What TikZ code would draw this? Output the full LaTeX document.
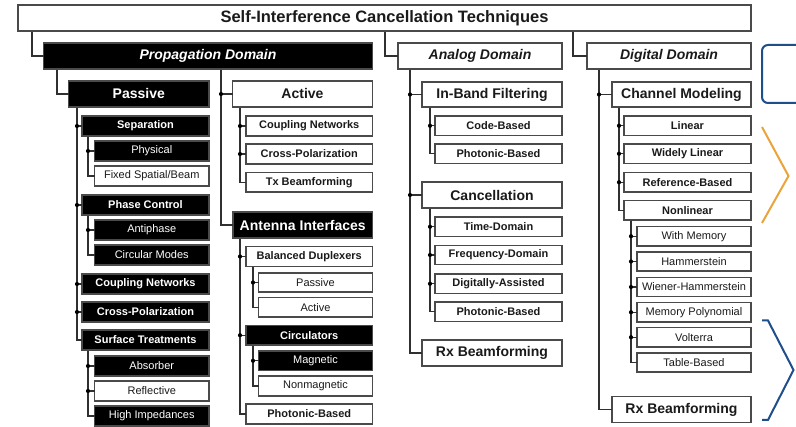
\documentclass[tikz,border=0pt]{standalone}
\usepackage{fontspec}
\setmainfont{Liberation Sans}
\definecolor{bordc}{HTML}{4A4A4A}
\definecolor{linec}{HTML}{303030}
\definecolor{navyc}{HTML}{1F4E8C}
\definecolor{goldc}{HTML}{E9A53A}
\definecolor{txtc}{HTML}{1A1A1A}
\newcommand\fTitle{\fontsize{16.5}{18}\selectfont\bfseries}
\newcommand\fDom{\fontsize{14}{16}\selectfont\bfseries\itshape}
\newcommand\fTwo{\fontsize{14}{16}\selectfont\bfseries}
\newcommand\fThree{\fontsize{11}{13}\selectfont\bfseries}
\newcommand\fFour{\fontsize{11}{13}\selectfont}
\tikzset{
  wbox/.style={draw=bordc, line width=1.2pt, fill=white, text=txtc, inner sep=0pt, outer sep=0pt, anchor=north west},
  bbox/.style={wbox, fill=black, text=white},
  conn/.style={draw=linec, line width=1.3pt},
  jdot/.style={fill=black},
}
\newcommand\bx[7]{\node[#6, minimum width={#4pt-#2pt}, minimum height={#5pt-#3pt}] (#1) at (#2,#3) {#7};}
\newcommand\br[2]{\draw[conn] (#1) |- (#2.west);}
\newcommand\jd[2]{\fill[jdot] (#1 |- #2.west) circle (2.1pt);}
\begin{document}
\begin{tikzpicture}[x=1pt,y=-1pt]
\fill[white] (0,0) rectangle (796,427);
\useasboundingbox (0,0) rectangle (796,427);
% top level
\bx{title}{18}{5}{751}{31}{wbox}{\fTitle Self-Interference Cancellation Techniques}
\bx{prop}{43.5}{43}{372.5}{69}{bbox}{\fDom Propagation Domain}
\bx{analog}{398}{43}{562}{69}{wbox}{\fDom Analog Domain}
\bx{digital}{587}{43}{751}{69}{wbox}{\fDom Digital Domain}
% propagation: passive
\bx{passive}{68.5}{81}{209}{107}{bbox}{\fTwo Passive}
\bx{sep}{82}{116}{209}{136}{bbox}{\fThree Separation}
\bx{phys}{94.5}{141}{209}{161}{bbox}{\fFour Physical}
\bx{fixed}{94.5}{166}{209}{186}{wbox}{\fFour Fixed Spatial/Beam}
\bx{phase}{82}{195}{209}{215}{bbox}{\fThree Phase Control}
\bx{anti}{94.5}{220}{209}{240}{bbox}{\fFour Antiphase}
\bx{circ}{94.5}{245}{209}{265}{bbox}{\fFour Circular Modes}
\bx{pcoup}{82}{274}{209}{294}{bbox}{\fThree Coupling Networks}
\bx{pcross}{82}{302}{209}{322}{bbox}{\fThree Cross-Polarization}
\bx{surf}{82}{330}{209}{350}{bbox}{\fThree Surface Treatments}
\bx{abs}{94.5}{356}{209}{376}{bbox}{\fFour Absorber}
\bx{refl}{94.5}{381}{209}{401}{wbox}{\fFour Reflective}
\bx{himp}{94.5}{406}{209}{426}{bbox}{\fFour High Impedances}
% propagation: active
\bx{active}{232.5}{81}{372.5}{107}{wbox}{\fTwo Active}
\bx{acoup}{246}{116}{372.5}{136}{wbox}{\fThree Coupling Networks}
\bx{across}{246}{144}{372.5}{164}{wbox}{\fThree Cross-Polarization}
\bx{txbf}{246}{172.5}{372.5}{192}{wbox}{\fThree Tx Beamforming}
% propagation: antenna interfaces
\bx{ant}{233}{212}{372.5}{238}{bbox}{\fTwo Antenna Interfaces}
\bx{bal}{246}{246.5}{372.5}{266.5}{wbox}{\fThree Balanced Duplexers}
\bx{bpass}{258.5}{273}{372.5}{292}{wbox}{\fFour Passive}
\bx{bact}{258.5}{297.5}{372.5}{317}{wbox}{\fFour Active}
\bx{circl}{246}{325.5}{372.5}{345}{bbox}{\fThree Circulators}
\bx{mag}{258.5}{351}{372.5}{370.5}{bbox}{\fFour Magnetic}
\bx{nonmag}{258.5}{376}{372.5}{396}{wbox}{\fFour Nonmagnetic}
\bx{aphot}{246}{404}{372.5}{424}{wbox}{\fThree Photonic-Based}
% analog
\bx{ibf}{422}{82}{562}{107}{wbox}{\fTwo In-Band Filtering}
\bx{code}{435}{116}{562}{135.5}{wbox}{\fThree Code-Based}
\bx{iphot}{435}{144}{562}{163.5}{wbox}{\fThree Photonic-Based}
\bx{canc}{422}{182}{562}{208}{wbox}{\fTwo Cancellation}
\bx{time}{435}{217}{562}{236.5}{wbox}{\fThree Time-Domain}
\bx{freq}{435}{245.5}{562}{264.5}{wbox}{\fThree Frequency-Domain}
\bx{digas}{435}{274}{562}{293.5}{wbox}{\fThree Digitally-Assisted}
\bx{cphot}{435}{302}{562}{321.5}{wbox}{\fThree Photonic-Based}
\bx{arx}{422}{340}{562}{366}{wbox}{\fTwo Rx Beamforming}
% digital
\bx{chm}{612}{82}{751}{107}{wbox}{\fTwo Channel Modeling}
\bx{lin}{624}{116}{751}{135.5}{wbox}{\fThree Linear}
\bx{wlin}{624}{144}{751}{163.5}{wbox}{\fThree Widely Linear}
\bx{refb}{624}{172.5}{751}{192}{wbox}{\fThree Reference-Based}
\bx{nonl}{624}{200.5}{751}{220}{wbox}{\fThree Nonlinear}
\bx{wmem}{637}{226.5}{751}{246}{wbox}{\fFour With Memory}
\bx{hamm}{637}{252}{751}{271}{wbox}{\fFour Hammerstein}
\bx{wh}{637}{277.5}{751}{296.5}{wbox}{\fFour Wiener-Hammerstein}
\bx{mp}{637}{302.5}{751}{322}{wbox}{\fFour Memory Polynomial}
\bx{volt}{637}{327.5}{751}{347}{wbox}{\fFour Volterra}
\bx{tab}{637}{353}{751}{372}{wbox}{\fFour Table-Based}
\bx{drx}{612}{396.5}{751}{422.5}{wbox}{\fTwo Rx Beamforming}
% trunk coordinates
\coordinate (tT1) at (32,31.6);
\coordinate (tT2) at (385,31.6);
\coordinate (tT3) at (573,31.6);
\coordinate (tP1) at (57,69.6);
\coordinate (tP2) at (221,69.6);
\coordinate (tPa) at (77,107.6);
\coordinate (tSe) at (88,136.6);
\coordinate (tPh) at (88,215.6);
\coordinate (tSu) at (88,350.6);
\coordinate (tAc) at (240,107.6);
\coordinate (tAn) at (240,238.6);
\coordinate (tBa) at (253,267.1);
\coordinate (tCi) at (253,345.6);
\coordinate (tAD) at (410,69.6);
\coordinate (tIB) at (430,107.6);
\coordinate (tCa) at (430,208.6);
\coordinate (tDD) at (599,69.6);
\coordinate (tCM) at (619,107.6);
\coordinate (tNL) at (631,220.6);
% connectors
\br{tT1}{prop} \br{tT2}{analog} \br{tT3}{digital}
\br{tP1}{passive}
\br{tP2}{active} \br{tP2}{ant} \jd{tP2}{active}
\br{tPa}{sep} \br{tPa}{phase} \br{tPa}{pcoup} \br{tPa}{pcross} \br{tPa}{surf}
\jd{tPa}{sep} \jd{tPa}{phase} \jd{tPa}{pcoup} \jd{tPa}{pcross}
\br{tSe}{phys} \br{tSe}{fixed} \jd{tSe}{phys}
\br{tPh}{anti} \br{tPh}{circ} \jd{tPh}{anti}
\br{tSu}{abs} \br{tSu}{refl} \br{tSu}{himp} \jd{tSu}{abs} \jd{tSu}{refl}
\br{tAc}{acoup} \br{tAc}{across} \br{tAc}{txbf} \jd{tAc}{acoup} \jd{tAc}{across}
\br{tAn}{bal} \br{tAn}{circl} \br{tAn}{aphot} \jd{tAn}{bal} \jd{tAn}{circl}
\br{tBa}{bpass} \br{tBa}{bact} \jd{tBa}{bpass}
\br{tCi}{mag} \br{tCi}{nonmag} \jd{tCi}{mag}
\br{tAD}{ibf} \br{tAD}{canc} \br{tAD}{arx} \jd{tAD}{ibf} \jd{tAD}{canc}
\br{tIB}{code} \br{tIB}{iphot} \jd{tIB}{code}
\br{tCa}{time} \br{tCa}{freq} \br{tCa}{digas} \br{tCa}{cphot}
\jd{tCa}{time} \jd{tCa}{freq} \jd{tCa}{digas}
\br{tDD}{chm} \br{tDD}{drx} \jd{tDD}{chm}
\br{tCM}{lin} \br{tCM}{wlin} \br{tCM}{refb} \br{tCM}{nonl}
\jd{tCM}{lin} \jd{tCM}{wlin} \jd{tCM}{refb}
\br{tNL}{wmem} \br{tNL}{hamm} \br{tNL}{wh} \br{tNL}{mp} \br{tNL}{volt} \br{tNL}{tab}
\jd{tNL}{wmem} \jd{tNL}{hamm} \jd{tNL}{wh} \jd{tNL}{mp} \jd{tNL}{volt}
% cropped shapes at the right edge
\draw[navyc, line width=2pt, rounded corners=6pt] (797,45) -- (762,45) -- (762,103) -- (797,103);
\draw[goldc, line width=2pt] (762,127) -- (788.5,176) -- (762,223);
\draw[navyc, line width=2pt] (762,320.5) -- (768,320.5) -- (793.5,370) -- (768,420) -- (762,420);
\end{tikzpicture}
\end{document}
